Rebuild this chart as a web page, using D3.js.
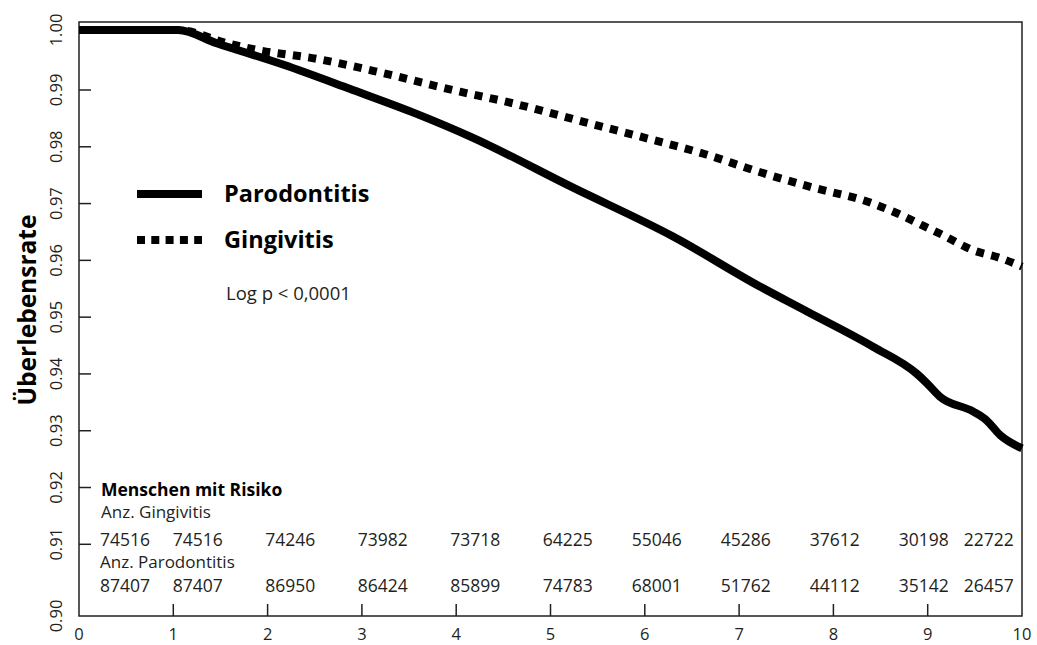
<!DOCTYPE html>
<html>
<head>
<meta charset="utf-8">
<script src="https://cdn.jsdelivr.net/npm/d3@7"></script>
<style>
  html, body { margin: 0; padding: 0; background: #fff; }
  svg { display: block; }
</style>
</head>
<body>
<div id="chart"></div>
<script>
// survival curves (years, survival rate)
const paroTime = [0, 1.05, 1.46, 2.17, 2.87, 3.58, 4.15, 5.24, 6.30, 7.22, 7.72, 8.42, 8.88, 8.99, 9.13, 9.48, 9.62, 9.77, 10];
const paroSurv = [1.0, 1.0, 0.9978, 0.9942, 0.9902, 0.9858, 0.9818, 0.9728, 0.9642, 0.9554, 0.9510, 0.9448, 0.9401, 0.9384, 0.9360, 0.9334, 0.9319, 0.9292, 0.9269];

const gingTime = [0, 1.05, 1.57, 1.88, 2.52, 3.23, 4.04, 4.54, 5.35, 6.02, 6.66, 7.15, 7.72, 8.42, 8.74, 8.95, 9.13, 9.48, 9.77, 10];
const gingSurv = [1.0, 1.0, 0.9978, 0.9967, 0.9952, 0.9928, 0.9897, 0.9879, 0.9844, 0.9815, 0.9786, 0.9759, 0.9731, 0.9700, 0.9678, 0.9661, 0.9647, 0.9618, 0.9604, 0.9589];

// numbers at risk per year
const riskYears = [0, 1, 2, 3, 4, 5, 6, 7, 8, 9, 10];
const riskGingivitis = [74516, 74516, 74246, 73982, 73718, 64225, 55046, 45286, 37612, 30198, 22722];
const riskParodontitis = [87407, 87407, 86950, 86424, 85899, 74783, 68001, 51762, 44112, 35142, 26457];

const xTicks = [0, 1, 2, 3, 4, 5, 6, 7, 8, 9, 10];
const yTicks = [0.90, 0.91, 0.92, 0.93, 0.94, 0.95, 0.96, 0.97, 0.98, 0.99, 1.00];

const legendLabels = ["Parodontitis", "Gingivitis"];

const W = 1037, H = 645;
const margin = {top: 22, right: 15, bottom: 29, left: 79};
const width = W - margin.left - margin.right;
const height = H - margin.top - margin.bottom;
const font = "'Open Sans', 'Noto Sans', sans-serif";
const ink = "#231f20";

const x = d3.scaleLinear().domain([0, 10]).range([0, width]);
// the printed axis is not evenly spaced at its ends, so use a piecewise scale
const y = d3.scaleLinear()
    .domain([0.90, 0.91, 0.99, 1.00])
    .range([height, height - 71.7, 68, 8]);

// column layout of the risk table (left edge of each number)
const tableX = d3.scaleLinear()
    .domain([0, 1, 5, 9, 10])
    .range([21, 93.7, 463.8, 819.7, 884.7]);

const svg = d3.select("#chart").append("svg")
    .attr("width", W)
    .attr("height", H)
    .attr("font-family", font);

const g = svg.append("g")
    .attr("transform", `translate(${margin.left},${margin.top})`);

// frame
g.append("rect")
    .attr("width", width)
    .attr("height", height)
    .attr("fill", "none")
    .attr("stroke", ink)
    .attr("stroke-width", 1.5);

// inward ticks
g.selectAll(".xtick")
  .data(xTicks.slice(1, -1))
  .join("line")
    .attr("x1", d => x(d)).attr("x2", d => x(d))
    .attr("y1", height).attr("y2", height - 12)
    .attr("stroke", ink).attr("stroke-width", 1.5);

g.selectAll(".ytick")
  .data(yTicks.slice(1, -1))
  .join("line")
    .attr("x1", 0).attr("x2", 12)
    .attr("y1", d => y(d)).attr("y2", d => y(d))
    .attr("stroke", ink).attr("stroke-width", 1.5);

// tick labels
g.selectAll(".xlab")
  .data(xTicks)
  .join("text")
    .attr("x", d => x(d))
    .attr("y", height + 18)
    .attr("dy", "0.35em")
    .attr("text-anchor", "middle")
    .attr("font-size", 16.5)
    .attr("fill", ink)
    .text(d => d);

g.selectAll(".ylab")
  .data(yTicks)
  .join("text")
    .attr("transform", d => `translate(-23,${y(d)}) rotate(-90)`)
    .attr("dy", "0.35em")
    .attr("text-anchor", "middle")
    .attr("font-size", 16.5)
    .attr("fill", ink)
    .text(d => d.toFixed(2));

// axis title
svg.append("text")
    .attr("transform", `translate(27,${margin.top + 288}) rotate(-90)`)
    .attr("dy", "0.35em")
    .attr("text-anchor", "middle")
    .attr("font-size", 24.5)
    .attr("font-weight", "bold")
    .attr("fill", "#000")
    .text("Überlebensrate");

// curves
const line = d3.line()
    .x(d => x(d[0]))
    .y(d => y(d[1]))
    .curve(d3.curveMonotoneX);

g.append("path")
    .datum(d3.zip(gingTime, gingSurv))
    .attr("d", line)
    .attr("fill", "none")
    .attr("stroke", "#000")
    .attr("stroke-width", 8)
    .attr("stroke-dasharray", "8,7.5");

g.append("path")
    .datum(d3.zip(paroTime, paroSurv))
    .attr("d", line)
    .attr("fill", "none")
    .attr("stroke", "#000")
    .attr("stroke-width", 8)
    .attr("stroke-linejoin", "round");

// legend
const legend = g.append("g").attr("transform", "translate(58,172)");
legend.selectAll("line")
  .data(legendLabels)
  .join("line")
    .attr("x1", 0).attr("x2", 65)
    .attr("y1", (d, i) => i * 46).attr("y2", (d, i) => i * 46)
    .attr("stroke", "#000")
    .attr("stroke-width", 8)
    .attr("stroke-dasharray", (d, i) => i ? "8,6.3" : null);
legend.selectAll("text")
  .data(legendLabels)
  .join("text")
    .attr("x", 87)
    .attr("y", (d, i) => i * 46)
    .attr("dy", "0.35em")
    .attr("font-size", 23.5)
    .attr("font-weight", "bold")
    .attr("fill", "#000")
    .text(d => d);

g.append("text")
    .attr("x", 147)
    .attr("y", 278)
    .attr("font-size", 18.5)
    .attr("fill", ink)
    .text("Log p < 0,0001");

// numbers at risk
g.append("text")
    .attr("x", 22).attr("y", 474)
    .attr("font-size", 17.5)
    .attr("font-weight", "bold")
    .attr("fill", "#000")
    .text("Menschen mit Risiko");

g.append("text")
    .attr("x", 22).attr("y", 496)
    .attr("font-size", 17)
    .attr("fill", ink)
    .text("Anz. Gingivitis");

g.append("text")
    .attr("x", 21).attr("y", 546)
    .attr("font-size", 17)
    .attr("fill", ink)
    .text("Anz. Parodontitis");

const rows = [riskGingivitis, riskParodontitis];
rows.forEach((row, r) => {
  g.selectAll(".risk" + r)
    .data(d3.zip(riskYears, row))
    .join("text")
      .attr("x", d => tableX(d[0]))
      .attr("y", r ? 570 : 524)
      .attr("font-size", 17.5)
      .attr("fill", ink)
      .text(d => d[1]);
});
</script>
</body>
</html>
